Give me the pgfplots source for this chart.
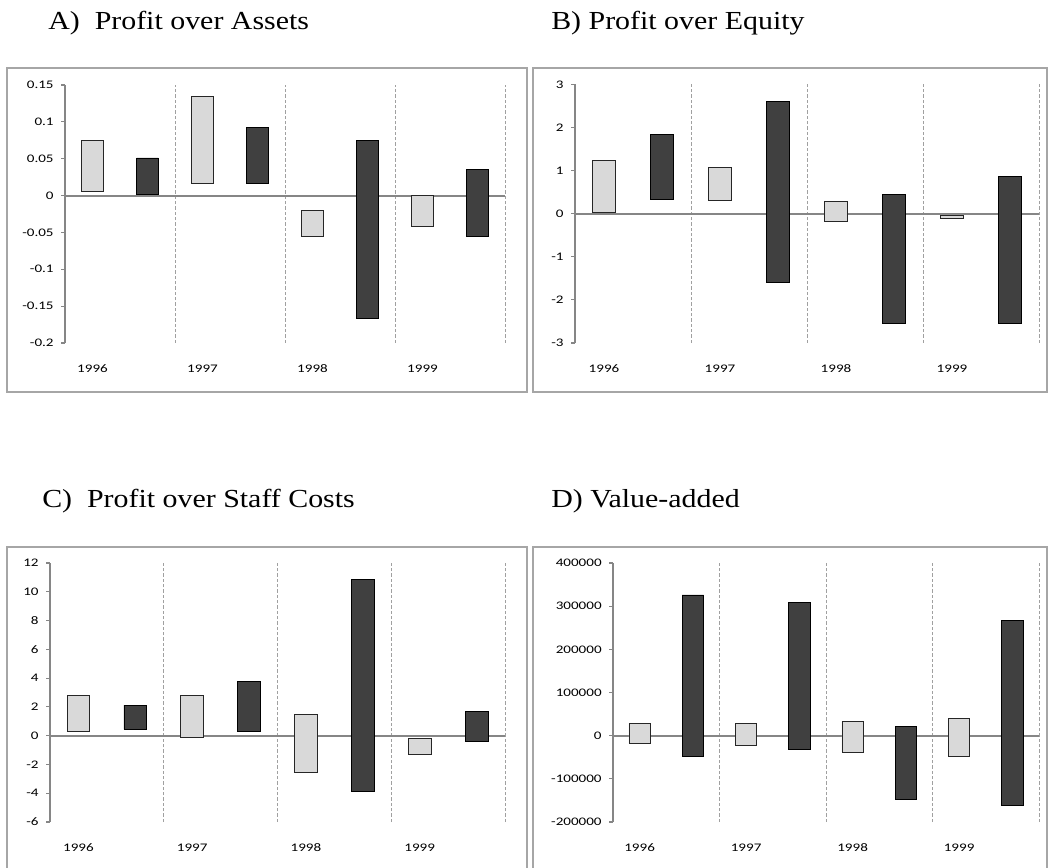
\documentclass[border=0pt]{standalone}
\usepackage{pgfplots}
\pgfplotsset{compat=1.18}
\usepackage{pgfplotstable}
\usepackage{fontspec}
\setmainfont{Liberation Serif}
\newfontfamily\tickfont{Carlito}[FakeStretch=1.3]
\newfontfamily\titlefont{Liberation Serif}[FakeStretch=1.15]

\definecolor{axgray}{RGB}{134,134,134}
\definecolor{gridgray}{RGB}{160,160,160}
\definecolor{lightbar}{RGB}{217,217,217}
\definecolor{darkbar}{RGB}{64,64,64}
\definecolor{framegray}{RGB}{166,166,166}

% x = bar position, lo = bottom, hi = top, c = 0 light bar / 1 dark bar
\pgfplotstableread{
x lo hi c
0 0.005 0.075 0
1 0.001 0.051 1
2 0.017 0.134 0
3 0.017 0.093 1
4 -0.055 -0.020 0
5 -0.167 0.075 1
6 -0.042 0.000 0
7 -0.055 0.035 1
}\Adata
\pgfplotstableread{
x lo hi c
0 0.02 1.24 0
1 0.34 1.83 1
2 0.31 1.08 0
3 -1.59 2.60 1
4 -0.18 0.28 0
5 -2.54 0.44 1
6 -0.10 -0.03 0
7 -2.54 0.87 1
}\Bdata
\pgfplotstableread{
x lo hi c
0 0.28 2.82 0
1 0.44 2.13 1
2 -0.12 2.82 0
3 0.28 3.75 1
4 -2.55 1.46 0
5 -3.84 10.83 1
6 -1.30 -0.21 0
7 -0.39 1.69 1
}\Cdata
\pgfplotstableread{
x lo hi c
0 -17000 28500 0
1 -48600 326000 1
2 -22400 28500 0
3 -32400 308000 1
4 -37800 33900 0
5 -148000 20800 1
6 -48600 40900 0
7 -161000 266800 1
}\Ddata

\pgfplotsset{panel/.style={
  scale only axis,
  xmin=-0.5, xmax=7.5,
  axis x line*=bottom, axis y line*=left,
  x axis line style={draw=none},
  y axis line style={draw=axgray, line width=1.4pt},
  xtick={0,2,4,6}, xticklabels={1996,1997,1998,1999},
  xtick style={draw=none},
  ytick style={draw=axgray, line width=0.9pt},
  tick align=outside, major tick length=3pt,
  scaled y ticks=false,
  ticklabel style={font=\tickfont\fontsize{8.7}{10}\selectfont, text=black},
  xticklabel style={yshift=-10pt},
  yticklabel style={xshift=-2pt},
  extra x ticks={1.5,3.5,5.5,7.5}, extra x tick labels={},
  extra x tick style={grid=major, major grid style={draw=gridgray, dash pattern=on 2.5pt off 1.5pt, line width=0.6pt}},
  extra y ticks={0}, extra y tick labels={},
  extra y tick style={grid=major, major grid style={draw=axgray, line width=1.5pt}},
  ybar stacked, stack negative=on previous, bar width=0.4,
  clip=false,
}}
\pgfplotsset{
  base/.style={draw=none, fill=none},
  lightb/.style={fill=lightbar, draw=black!85, line width=0.6pt},
  darkb/.style={fill=darkbar, draw=black, line width=0.6pt},
}
\newcommand{\floatbars}[1]{%
  \addplot[base] table[x=x, y=lo]{#1};
  \addplot[lightb] table[x=x, y expr={(1-\thisrow{c})*(\thisrow{hi}-\thisrow{lo})}]{#1};
  \addplot[darkb] table[x=x, y expr={\thisrow{c}*(\thisrow{hi}-\thisrow{lo})}]{#1};
}

\begin{document}
\begin{tikzpicture}[x=0.75pt, y=0.75pt]
\useasboundingbox (0,0) rectangle (1048,867);
% frames
\draw[framegray, line width=1pt] (7,475) rectangle (527,799);
\draw[framegray, line width=1pt] (533,475) rectangle (1047,799);
\draw[framegray, line width=1pt] (7,-5) rectangle (527,320);
\draw[framegray, line width=1pt] (533,-5) rectangle (1047,320);
% titles
\node[anchor=base west, inner sep=0pt, font=\titlefont\fontsize{19.5}{22}\selectfont] at (48,837) {A)\ \ Profit over Assets};
\node[anchor=base west, inner sep=0pt, font=\titlefont\fontsize{19.5}{22}\selectfont] at (551,837) {B) Profit over Equity};
\node[anchor=base west, inner sep=0pt, font=\titlefont\fontsize{19.5}{22}\selectfont] at (42,359) {C)\ \ Profit over Staff Costs};
\node[anchor=base west, inner sep=0pt, font=\titlefont\fontsize{19.5}{22}\selectfont] at (551,359) {D) Value-added};

% Panel A
\begin{axis}[panel, at={(48.75pt,393pt)}, anchor=south west, width=330pt, height=193.5pt,
  ymin=-0.2, ymax=0.15,
  ytick={-0.2,-0.15,-0.1,-0.05,0,0.05,0.1,0.15},
  yticklabels={-0.2,-0.15,-0.1,-0.05,0,0.05,0.1,0.15}]
\floatbars{\Adata}
\end{axis}

% Panel B
\begin{axis}[panel, at={(431.25pt,393pt)}, anchor=south west, width=348pt, height=194pt,
  ymin=-3, ymax=3,
  ytick={-3,-2,-1,0,1,2,3},
  yticklabels={-3,-2,-1,0,1,2,3}]
\floatbars{\Bdata}
\end{axis}

% Panel C
\begin{axis}[panel, at={(37.5pt,33.75pt)}, anchor=south west, width=341.25pt, height=194.25pt,
  ymin=-6, ymax=12,
  ytick={-6,-4,-2,0,2,4,6,8,10,12},
  yticklabels={-6,-4,-2,0,2,4,6,8,10,12}]
\floatbars{\Cdata}
\end{axis}

% Panel D
\begin{axis}[panel, at={(459.75pt,33.75pt)}, anchor=south west, width=319.5pt, height=194.25pt,
  ymin=-200000, ymax=400000,
  ytick={-200000,-100000,0,100000,200000,300000,400000},
  yticklabels={-200000,-100000,0,100000,200000,300000,400000}]
\floatbars{\Ddata}
\end{axis}
\end{tikzpicture}
\end{document}
